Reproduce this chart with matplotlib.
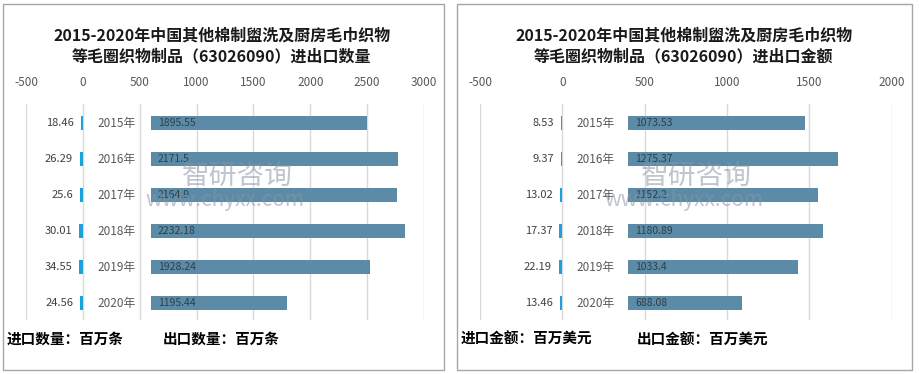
import matplotlib.pyplot as plt
from matplotlib.patches import Rectangle

plt.rcParams['font.family'] = ['Noto Sans CJK SC', 'DejaVu Sans']
plt.rcParams['axes.unicode_minus'] = False

# Daten
years = ['2015年', '2016年', '2017年', '2018年', '2019年', '2020年']
qty_import = [18.46, 26.29, 25.6, 30.01, 34.55, 24.56]
qty_export = [1895.55, 2171.5, 2164.9, 2232.18, 1928.24, 1195.44]
amt_import = [8.53, 9.37, 13.02, 17.37, 22.19, 13.46]
amt_export = [1073.53, 1275.37, 1152.2, 1180.89, 1033.4, 688.08]

qty_ticks = [-500, 0, 500, 1000, 1500, 2000, 2500, 3000]
amt_ticks = [-500, 0, 500, 1000, 1500, 2000]

title_qty = '2015-2020年中国其他棉制盥洗及厨房毛巾织物\n等毛圈织物制品（63026090）进出口数量'
title_amt = '2015-2020年中国其他棉制盥洗及厨房毛巾织物\n等毛圈织物制品（63026090）进出口金额'

EXP_COLOR = '#5b8ba6'
IMP_COLOR = '#1ba2dc'
GRID = '#d9d9d9'

W, H = 920, 374
fig = plt.figure(figsize=(W / 100, H / 100), dpi=100)


def px(x0, y0, x1, y1):
    # Pixelbox -> Figurkoordinaten
    return [x0 / W, 1 - y1 / H, (x1 - x0) / W, (y1 - y0) / H]


def panel(box, ticks, imp, exp, base):
    ax = fig.add_axes(box)
    y = range(len(years))
    ax.barh(y, [-v for v in imp], height=0.39, color=IMP_COLOR, zorder=3)
    ax.barh(y, exp, left=base, height=0.39, color=EXP_COLOR, zorder=3)
    for i in y:
        ax.annotate(f'{imp[i]:g}', (-imp[i], i), xytext=(-5, 0), textcoords='offset points',
                    ha='right', va='center', fontsize=8, color='#404040')
        ax.text(base / 2, i, years[i], ha='center', va='center', fontsize=8.5, color='#595959')
        ax.annotate(f'{exp[i]:g}', (base, i), xytext=(5, 0), textcoords='offset points',
                    ha='left', va='center', fontsize=7.5, color='#2f3f4a', zorder=4)
    ax.set_xlim(ticks[0], ticks[-1])
    ax.set_ylim(len(years) - 0.54, -0.54)
    ax.set_xticks(ticks)
    ax.xaxis.tick_top()
    ax.tick_params(axis='x', length=0, pad=11, labelsize=8.5, labelcolor='#595959')
    ax.set_yticks([])
    ax.grid(axis='x', color=GRID, linewidth=1, zorder=0)
    for s in ax.spines.values():
        s.set_visible(False)
    return ax


panel(px(26, 104, 424, 320), qty_ticks, qty_import, qty_export, 600)
panel(px(480, 104, 891.7, 320), amt_ticks, amt_import, amt_export, 400)

# Rahmen der beiden Teilbilder
for x0, x1 in [(3, 444), (457, 911.7)]:
    fig.patches.append(Rectangle((x0 / W, 1 - 370 / H), (x1 - x0) / W, 366 / H,
                                 transform=fig.transFigure, fill=False,
                                 edgecolor='#a6a6a6', linewidth=1))

fig.text(222 / W, 1 - 46 / H, title_qty, ha='center', va='center', fontsize=11.5,
         fontweight='bold', color='#1a1a1a', linespacing=1.3)
fig.text(684 / W, 1 - 46 / H, title_amt, ha='center', va='center', fontsize=11.5,
         fontweight='bold', color='#1a1a1a', linespacing=1.3)

fig.text(7 / W, 1 - 339 / H, '进口数量：百万条', ha='left', va='center', fontsize=10.5, fontweight='bold')
fig.text(163 / W, 1 - 339 / H, '出口数量：百万条', ha='left', va='center', fontsize=10.5, fontweight='bold')
fig.text(461 / W, 1 - 339 / H, '进口金额：百万美元', ha='left', va='center', fontsize=10.5, fontweight='bold')
fig.text(637 / W, 1 - 339 / H, '出口金额：百万美元', ha='left', va='center', fontsize=10.5, fontweight='bold')

# Wasserzeichen
for cx in [225, 684]:
    fig.text((cx + 12) / W, 1 - 176 / H, '智研咨询', ha='center', va='center', fontsize=20,
             color='#8a96a3', alpha=0.55, zorder=10)
    fig.text(cx / W, 1 - 200 / H, 'www.chyxx.com', ha='center', va='center', fontsize=15,
             color='#8a96a3', alpha=0.55, zorder=10)

fig.savefig('out.png', dpi=100)
